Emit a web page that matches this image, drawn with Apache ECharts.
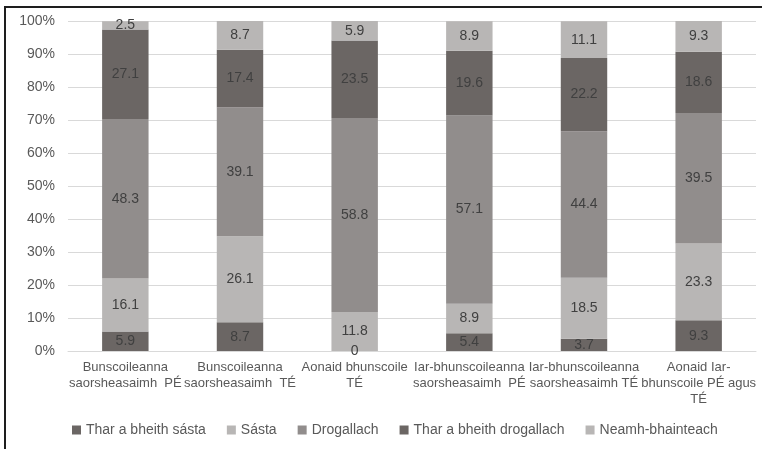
<!DOCTYPE html>
<html>
<head>
<meta charset="utf-8">
<script src="https://cdn.jsdelivr.net/npm/echarts@6/dist/echarts.min.js"></script>
<style>
  html, body { margin: 0; padding: 0; background: #fff; }
  #chart { width: 762px; height: 449px; }
</style>
</head>
<body>
<div id="chart"></div>
<script>
var categories = [
  "Bunscoileanna\nsaorsheasaimh  PÉ",
  "Bunscoileanna\nsaorsheasaimh  TÉ",
  "Aonaid bhunscoile\nTÉ",
  "Iar-bhunscoileanna\nsaorsheasaimh  PÉ",
  "Iar-bhunscoileanna\nsaorsheasaimh TÉ",
  "Aonaid Iar-\nbhunscoile PÉ agus\nTÉ"
];
var seriesNames = ["Thar a bheith sásta", "Sásta", "Drogallach", "Thar a bheith drogallach", "Neamh-bhainteach"];
var tharSasta = [5.9, 8.7, 0, 5.4, 3.7, 9.3];
var sasta = [16.1, 26.1, 11.8, 8.9, 18.5, 23.3];
var drogallach = [48.3, 39.1, 58.8, 57.1, 44.4, 39.5];
var tharDrogallach = [27.1, 17.4, 23.5, 19.6, 22.2, 18.6];
var neamhBhainteach = [2.5, 8.7, 5.9, 8.9, 11.1, 9.3];
var colors = ["#6b6664", "#b8b6b5", "#918d8c", "#6b6664", "#b8b6b5"];

var chartDom = document.getElementById("chart");
var myChart = echarts.init(chartDom);
var option;

var allData = [tharSasta, sasta, drogallach, tharDrogallach, neamhBhainteach];
var seriesList = [];
seriesNames.forEach(function (name, i) {
  seriesList.push({
    name: name,
    type: "bar",
    stack: "total",
    barWidth: "40.5%",
    data: allData[i],
    itemStyle: { color: colors[i] },
    label: {
      show: true,
      position: "inside",
      color: "#404040",
      fontSize: 14,
      fontFamily: "Liberation Sans"
    }
  });
});

option = {
  animation: false,
  textStyle: { fontFamily: "Liberation Sans" },
  graphic: [
    {
      type: "rect",
      shape: { x: 5, y: 7, width: 900, height: 600 },
      style: { fill: "none", stroke: "#1e1e1e", lineWidth: 2 },
      silent: true
    }
  ],
  grid: {
    left: 68,
    right: 6,
    top: 21,
    bottom: 98
  },
  legend: {
    data: seriesNames,
    bottom: 7,
    left: 67,
    icon: "rect",
    itemWidth: 9,
    itemHeight: 9,
    itemGap: 21,
    textStyle: { color: "#595959", fontSize: 14, fontFamily: "Liberation Sans" }
  },
  xAxis: {
    type: "category",
    data: categories,
    axisTick: { show: false },
    axisLine: { lineStyle: { color: "#d9d9d9" } },
    axisLabel: {
      interval: 0,
      color: "#595959",
      fontSize: 13,
      lineHeight: 16,
      margin: 8
    }
  },
  yAxis: {
    type: "value",
    min: 0,
    max: 100,
    interval: 10,
    axisLabel: {
      color: "#595959",
      fontSize: 14,
      margin: 13,
      formatter: "{value}%"
    },
    splitLine: { lineStyle: { color: "#d9d9d9" } }
  },
  series: seriesList
};

option && myChart.setOption(option);
</script>
</body>
</html>
